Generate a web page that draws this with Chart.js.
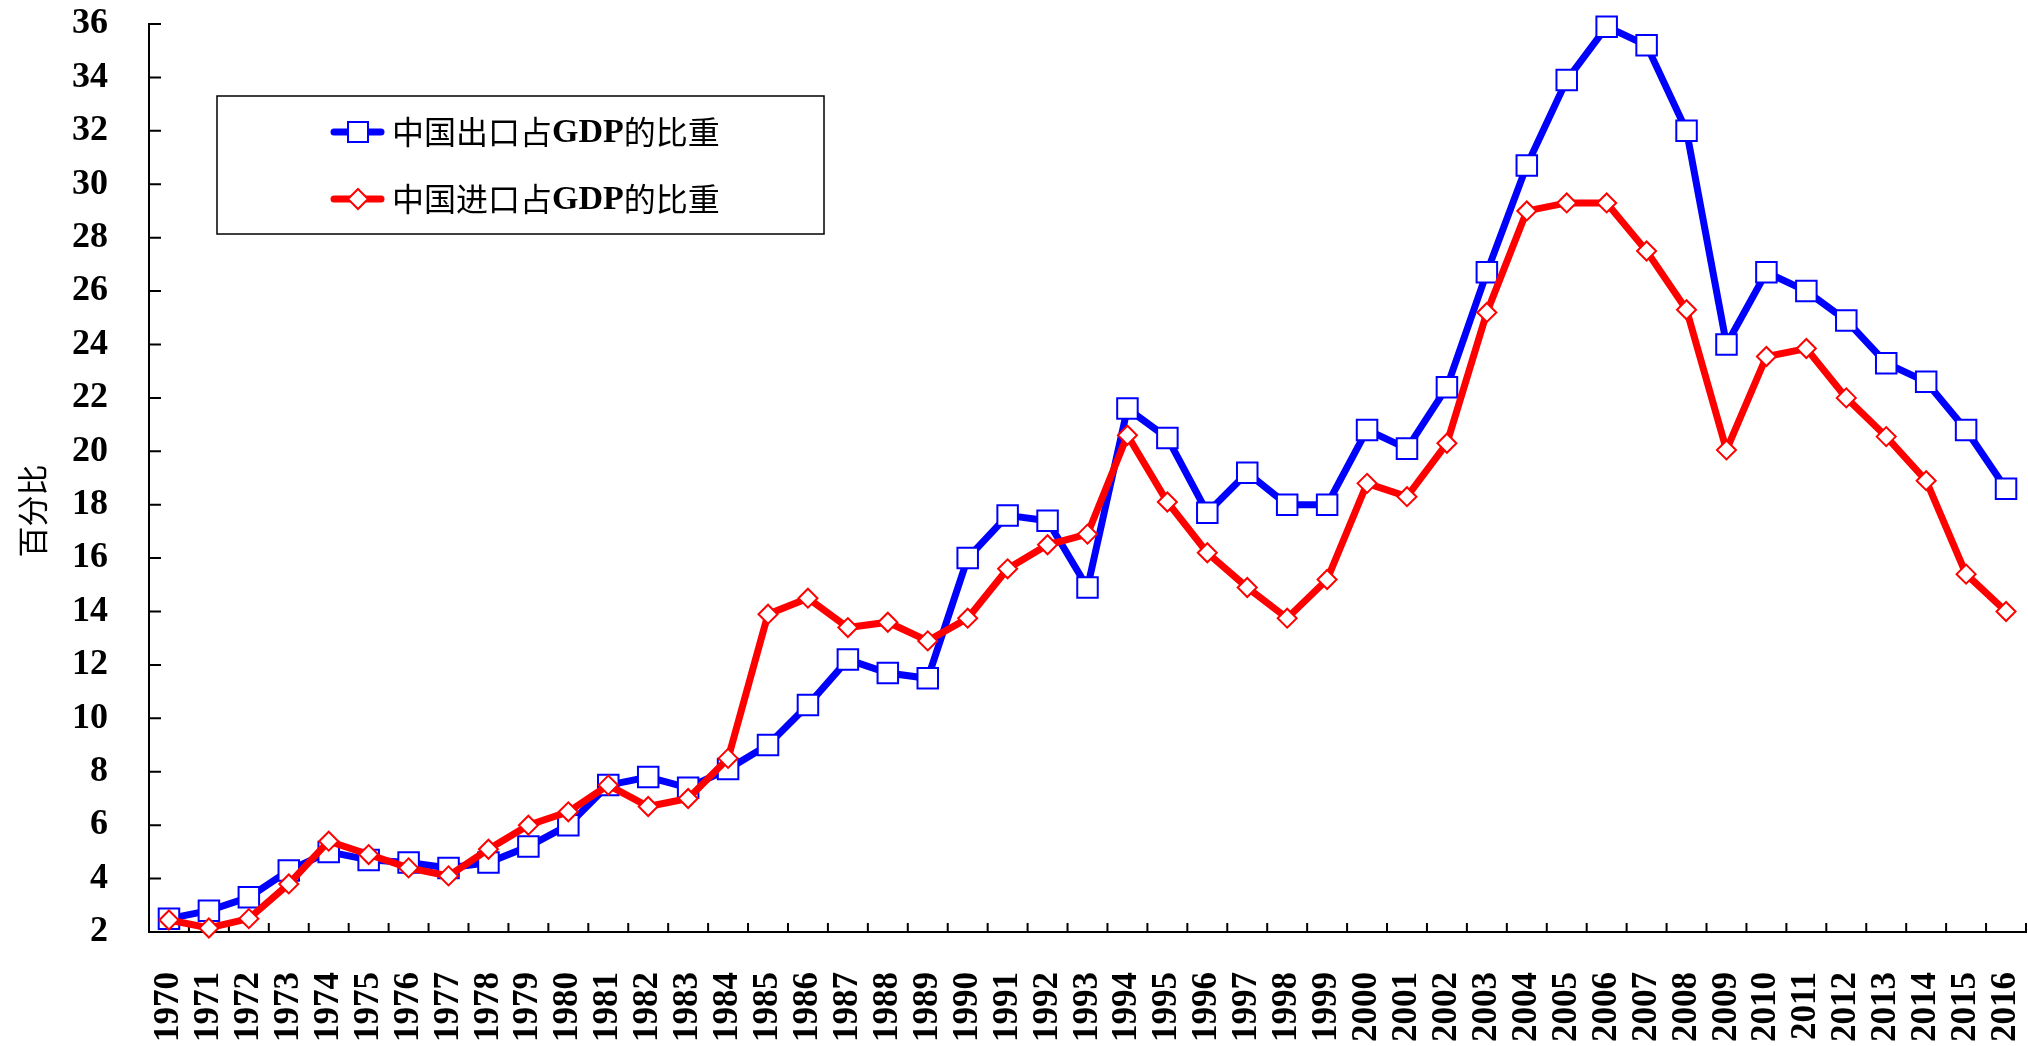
<!DOCTYPE html>
<html>
<head>
<meta charset="utf-8">
<title>中国进出口占GDP的比重</title>
<script src="https://cdn.jsdelivr.net/npm/chart.js@4.4.1/dist/chart.umd.min.js"></script>
<style>
  html, body { margin: 0; padding: 0; background: #fff; }
  #wrap { width: 2028px; height: 1046px; }
</style>
</head>
<body>
<div id="wrap"><canvas id="chart" width="2028" height="1046"></canvas></div>
<script>
const years = [
  "1970", "1971", "1972", "1973", "1974", "1975", "1976", "1977", "1978", "1979",
  "1980", "1981", "1982", "1983", "1984", "1985", "1986", "1987", "1988", "1989",
  "1990", "1991", "1992", "1993", "1994", "1995", "1996", "1997", "1998", "1999",
  "2000", "2001", "2002", "2003", "2004", "2005", "2006", "2007", "2008", "2009",
  "2010", "2011", "2012", "2013", "2014", "2015", "2016"
];

// 出口占GDP比重 (%)
const exportShare = [
  2.5, 2.8, 3.3, 4.3, 5.0, 4.7, 4.6, 4.4, 4.6, 5.2,
  6.0, 7.5, 7.8, 7.4, 8.1, 9.0, 10.5, 12.2, 11.7, 11.5,
  16.0, 17.6, 17.4, 14.9, 21.6, 20.5, 17.7, 19.2, 18.0, 18.0,
  20.8, 20.1, 22.4, 26.7, 30.7, 33.9, 35.9, 35.2, 32.0, 24.0,
  26.7, 26.0, 24.9, 23.3, 22.6, 20.8, 18.6
];

// 进口占GDP比重 (%)
const importShare = [
  2.45, 2.15, 2.5, 3.8, 5.4, 4.9, 4.4, 4.1, 5.1, 6.0,
  6.5, 7.5, 6.7, 7.0, 8.5, 13.9, 14.5, 13.4, 13.6, 12.9,
  13.75, 15.6, 16.5, 16.9, 20.6, 18.1, 16.2, 14.9, 13.75, 15.2,
  18.8, 18.3, 20.3, 25.2, 29.0, 29.3, 29.3, 27.5, 25.3, 20.05,
  23.55, 23.85, 22.0, 20.55, 18.9, 15.4, 14.0
];

const seriesNames = ["中国出口占GDP的比重", "中国进口占GDP的比重"];
const yMin = 2;
const yMax = 36;
const yStep = 2;
const yTitle = "百分比";

const latinFont = "'Liberation Serif', 'Times New Roman', serif";
const cjkFont = "'Noto Sans CJK SC', 'Liberation Serif', sans-serif";

// draw a square / diamond marker like the one on the chart
function drawMarker(ctx, style, x, y, color) {
  ctx.save();
  ctx.fillStyle = "#fff";
  ctx.strokeStyle = color;
  ctx.lineWidth = 2;
  ctx.beginPath();
  if (style === "rect") {
    ctx.rect(x - 10, y - 10, 20, 20);
  } else {
    ctx.moveTo(x - 10, y);
    ctx.lineTo(x, y - 10);
    ctx.lineTo(x + 10, y);
    ctx.lineTo(x, y + 10);
    ctx.closePath();
  }
  ctx.fill();
  ctx.stroke();
  ctx.restore();
}

// inward tick marks on both axes (drawn under the lines)
const innerTicks = {
  id: "innerTicks",
  beforeDatasetsDraw(chart) {
    const { ctx, chartArea, scales } = chart;
    const x = scales.x;
    const y = scales.y;
    ctx.save();
    ctx.strokeStyle = "#000";
    ctx.lineWidth = 2;
    ctx.beginPath();
    y.ticks.forEach((t) => {
      const py = y.getPixelForValue(t.value);
      ctx.moveTo(chartArea.left, py);
      ctx.lineTo(chartArea.left + 12, py);
    });
    const step = x.getPixelForValue(1) - x.getPixelForValue(0);
    for (let i = 0; i <= years.length; i++) {
      const px = x.getPixelForValue(i) - step / 2;
      ctx.moveTo(px, chartArea.bottom);
      ctx.lineTo(px, chartArea.bottom - 9);
    }
    ctx.stroke();
    ctx.restore();
  },
};

// boxed legend inside the plot + rotated y title
const boxLegend = {
  id: "boxLegend",
  afterDraw(chart) {
    const ctx = chart.ctx;
    ctx.save();
    ctx.strokeStyle = "#000";
    ctx.lineWidth = 1.5;
    ctx.strokeRect(217, 96, 607, 138);

    const rows = [
      { y: 132, color: "#0000ff", marker: "rect", parts: ["中国出口占", "GDP", "的比重"] },
      { y: 199, color: "#ff0000", marker: "rectRot", parts: ["中国进口占", "GDP", "的比重"] },
    ];
    rows.forEach((r) => {
      ctx.strokeStyle = r.color;
      ctx.lineWidth = 7;
      ctx.lineCap = "round";
      ctx.beginPath();
      ctx.moveTo(334, r.y);
      ctx.lineTo(381, r.y);
      ctx.stroke();
      drawMarker(ctx, r.marker, 358, r.y, r.color);

      ctx.fillStyle = "#000";
      ctx.textBaseline = "middle";
      let tx = 392;
      r.parts.forEach((p, i) => {
        ctx.font = i === 1 ? "bold 34px " + latinFont : "32px " + cjkFont;
        ctx.fillText(p, tx, r.y + (i === 1 ? 1 : 0));
        tx += ctx.measureText(p).width;
      });
    });

    // y axis title
    ctx.translate(32, 511);
    ctx.rotate(-Math.PI / 2);
    ctx.font = "31px " + cjkFont;
    ctx.textAlign = "center";
    ctx.textBaseline = "middle";
    ctx.fillStyle = "#000";
    ctx.fillText(yTitle, 0, 0);
    ctx.restore();
  },
};

new Chart(document.getElementById("chart"), {
  type: "line",
  data: {
    labels: years,
    datasets: [
      {
        label: seriesNames[0],
        data: exportShare,
        borderColor: "#0000ff",
        borderWidth: 7,
        pointStyle: "rect",
        pointRadius: 14.5,
        pointBorderWidth: 2,
        pointBackgroundColor: "#fff",
        pointBorderColor: "#0000ff",
        tension: 0,
        clip: false,
        order: 1,
      },
      {
        label: seriesNames[1],
        data: importShare,
        borderColor: "#ff0000",
        borderWidth: 7,
        pointStyle: "rectRot",
        pointRadius: 9.5,
        pointBorderWidth: 2,
        pointBackgroundColor: "#fff",
        pointBorderColor: "#ff0000",
        tension: 0,
        clip: false,
        order: 0,
      },
    ],
  },
  options: {
    responsive: false,
    animation: false,
    devicePixelRatio: 1,
    layout: { autoPadding: false, padding: { top: 24, right: 2, bottom: 0, left: 0 } },
    plugins: {
      legend: { display: false },
      tooltip: { enabled: false },
    },
    scales: {
      x: {
        offset: true,
        grid: { display: false, drawTicks: false },
        border: { display: true, color: "#000", width: 2 },
        ticks: {
          autoSkip: false,
          minRotation: 90,
          maxRotation: 90,
          padding: 40,
          color: "#000",
          font: { family: latinFont, weight: "bold", size: 35 },
        },
        afterFit(scale) {
          scale.height = 114;
          scale.paddingLeft = 0;
          scale.paddingRight = 0;
        },
      },
      y: {
        min: yMin,
        max: yMax,
        grid: { display: false, drawTicks: false },
        border: { display: true, color: "#000", width: 2 },
        ticks: {
          stepSize: yStep,
          padding: 41,
          color: "#000",
          font: { family: latinFont, weight: "bold", size: 36 },
        },
        afterFit(scale) {
          scale.width = 149;
          scale.paddingTop = 0;
          scale.paddingBottom = 0;
        },
      },
    },
  },
  plugins: [innerTicks, boxLegend],
});
</script>
</body>
</html>
